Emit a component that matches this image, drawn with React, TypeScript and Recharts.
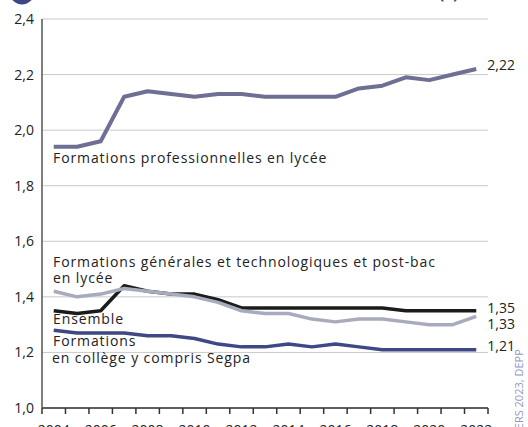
import React from "react";
import { LineChart, Line, XAxis, YAxis, CartesianGrid } from "recharts";

const years = [
    2004, 2005, 2006, 2007, 2008, 2009, 2010, 2011, 2012, 2013, 2014, 2015,
    2016, 2017, 2018, 2019, 2020, 2021, 2022,
];
const professionnelles = [
    1.94, 1.94, 1.96, 2.12, 2.14, 2.13, 2.12, 2.13, 2.13, 2.12, 2.12, 2.12,
    2.12, 2.15, 2.16, 2.19, 2.18, 2.2, 2.22,
];
const ensemble = [
    1.35, 1.34, 1.35, 1.44, 1.42, 1.41, 1.41, 1.39, 1.36, 1.36, 1.36, 1.36,
    1.36, 1.36, 1.36, 1.35, 1.35, 1.35, 1.35,
];
const generales = [
    1.42, 1.4, 1.41, 1.43, 1.42, 1.41, 1.4, 1.38, 1.35, 1.34, 1.34, 1.32,
    1.31, 1.32, 1.32, 1.31, 1.3, 1.3, 1.33,
];
const college = [
    1.28, 1.27, 1.27, 1.27, 1.26, 1.26, 1.25, 1.23, 1.22, 1.22, 1.23, 1.22,
    1.23, 1.22, 1.21, 1.21, 1.21, 1.21, 1.21,
];
const yTicks = [1.0, 1.2, 1.4, 1.6, 1.8, 2.0, 2.2, 2.4];

const data = years.map((year, i) => ({
    year,
    professionnelles: professionnelles[i],
    ensemble: ensemble[i],
    generales: generales[i],
    college: college[i],
}));

// band boundaries, labels sit in the middle of each band
const xTicks = years.map((y) => y - 0.5).concat(years[years.length - 1] + 0.5);

const W = 528;
const H = 427;
const LEFT = 42;
const RIGHT = 40;
const BAND = (W - LEFT - RIGHT) / years.length;
const FONT = "'Open Sans', 'Noto Sans', sans-serif";
const fmt = (v: number, d: number) => v.toFixed(d).replace(".", ",");

const YearTick = (props: any) => {
    const { x, y, payload } = props;
    const year = payload.value + 0.5;
    if (year % 2 !== 0 || year > years[years.length - 1]) return null;
    return (
        <text
            x={x + BAND / 2}
            y={y + 19}
            textAnchor="middle"
            fill="#222"
            fontSize={14}
            fontFamily={FONT}
        >
            {year}
        </text>
    );
};

const endLabel = (dy: number) => (props: any) => {
    const { x, y, value, index } = props;
    if (index !== years.length - 1) return null;
    return (
        <text
            x={x + 11}
            y={y + dy}
            dominantBaseline="central"
            fill="#222"
            fontSize={14}
            fontFamily={FONT}
        >
            {fmt(value, 2)}
        </text>
    );
};

export default function App() {
    return (
        <div
            style={{
                position: "absolute",
                left: 0,
                top: 0,
                width: W,
                height: H,
                background: "#fff",
                fontFamily: FONT,
            }}
        >
            <LineChart
                width={W}
                height={H}
                data={data}
                margin={{ top: 19, right: RIGHT, bottom: 0, left: 0 }}
            >
                <CartesianGrid stroke="#c9c9c9" vertical={false} />
                <XAxis
                    dataKey="year"
                    type="number"
                    domain={[2003.5, 2022.5]}
                    ticks={xTicks}
                    interval={0}
                    height={19}
                    tickSize={6}
                    tickLine={{ stroke: "#333", strokeWidth: 1.5 }}
                    axisLine={{ stroke: "#333", strokeWidth: 1.5 }}
                    tick={<YearTick />}
                />
                <YAxis
                    type="number"
                    domain={[1, 2.4]}
                    ticks={yTicks}
                    interval={0}
                    width={LEFT}
                    tickLine={false}
                    axisLine={{ stroke: "#555", strokeWidth: 1.5 }}
                    tickFormatter={(v: number) => fmt(v, 1)}
                    tick={{ fill: "#222", fontSize: 14, fontFamily: FONT }}
                />
                <Line
                    type="linear"
                    dataKey="ensemble"
                    stroke="#1b1b1b"
                    strokeWidth={3.5}
                    strokeLinejoin="round"
                    dot={false}
                    isAnimationActive={false}
                    label={endLabel(-3)}
                />
                <Line
                    type="linear"
                    dataKey="generales"
                    stroke="#a8aabd"
                    strokeWidth={3.5}
                    strokeLinejoin="round"
                    dot={false}
                    isAnimationActive={false}
                    label={endLabel(7)}
                />
                <Line
                    type="linear"
                    dataKey="college"
                    stroke="#3d4884"
                    strokeWidth={3.5}
                    strokeLinejoin="round"
                    dot={false}
                    isAnimationActive={false}
                    label={endLabel(-4)}
                />
                <Line
                    type="linear"
                    dataKey="professionnelles"
                    stroke="#6e6f93"
                    strokeWidth={4}
                    strokeLinejoin="round"
                    dot={false}
                    isAnimationActive={false}
                    label={endLabel(-5)}
                />
            </LineChart>
            <svg
                width={W}
                height={H}
                style={{ position: "absolute", left: 0, top: 0, pointerEvents: "none" }}
                fontFamily={FONT}
                fontSize={14}
                fill="#222"
            >
                {/* title, cut off at the top of the frame */}
                <circle cx={22} cy={-8} r={12.5} fill="#3e4786" />
                <text x={458} y={-1} textAnchor="end" fontWeight="bold" fontSize={15} fill="#3b4070">
                    Évolution du H/E selon le niveau de formation (1)
                </text>
                <g letterSpacing={0.9}>
                    <text x={53} y={163}>Formations professionnelles en lycée</text>
                    <text x={53} y={267}>Formations générales et technologiques et post-bac</text>
                    <text x={53} y={283}>en lycée</text>
                    <text x={53} y={324}>Ensemble</text>
                    <text x={53} y={346}>Formations</text>
                    <text x={52} y={363}>en collège y compris Segpa</text>
                </g>
                <text
                    x={0}
                    y={0}
                    fontSize={11}
                    fill="#9497c2"
                    transform="translate(523 436) rotate(-90)"
                >
                    RERS 2023, DEPP
                </text>
            </svg>
        </div>
    );
}
